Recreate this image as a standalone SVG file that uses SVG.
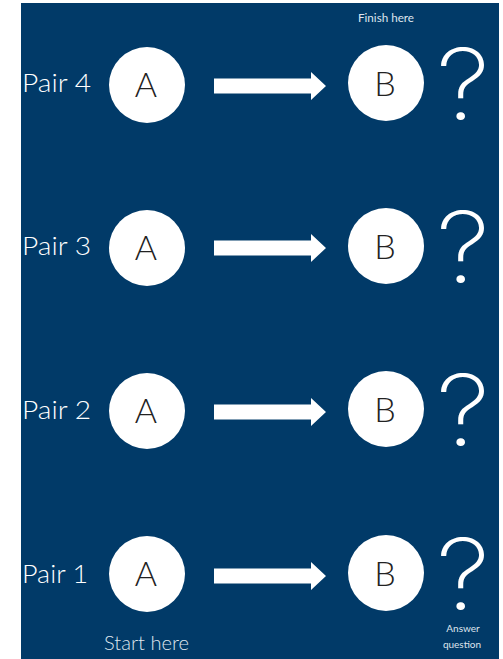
<svg xmlns="http://www.w3.org/2000/svg" width="503" height="659" viewBox="0 0 503 659">
  <style>
    .bg { fill: #013a68; }
    .disc { fill: #ffffff; }
    .pair { font-family: Lato, "Liberation Sans", sans-serif; font-size: 25px; font-weight: 300; fill: #ffffff; }
    .letter { font-family: Lato, "Liberation Sans", sans-serif; font-size: 34px; font-weight: 300; fill: #222222; text-anchor: middle; }
    .ask { font-family: Inter, "Open Sans", "Liberation Sans", sans-serif; font-size: 98px; font-weight: 250; fill: #ffffff; text-anchor: middle; }
    .note { font-family: Lato, "Liberation Sans", sans-serif; fill: #dfe5ee; }
    .arrow { fill: #ffffff; }
  </style>
  <defs>
    <!-- block arrow, centred on y=0 -->
    <path id="blockArrow" class="arrow" d="M214,-7.5 H311 V-14 L326,0 L311,14 V7.5 H214 Z"/>
    <!-- question mark, widened a little, baseline at y=0 -->
    <text id="ask" class="ask" x="0" y="0" transform="scale(1.12,1)">?</text>
  </defs>

  <rect class="bg" x="21" y="3" width="478" height="656"/>

  <g id="captions">
    <text class="note" x="358" y="22" font-size="11" textLength="56" lengthAdjust="spacingAndGlyphs">Finish here</text>
    <text class="note" x="104" y="650" font-size="20" font-weight="300" textLength="85" lengthAdjust="spacingAndGlyphs">Start here</text>
    <text class="note" x="463" y="632" font-size="10" text-anchor="middle">Answer</text>
    <text class="note" x="462" y="648" font-size="10" text-anchor="middle">question</text>
  </g>

  <!-- Pair 4 -->
  <g id="pair4">
    <text class="pair" x="22" y="92" textLength="69" lengthAdjust="spacingAndGlyphs">Pair 4</text>
    <g id="pair4-a"><circle class="disc" cx="147" cy="85" r="38"/><text class="letter" x="146" y="97">A</text></g>
    <g id="pair4-b"><circle class="disc" cx="386" cy="83" r="38"/><text class="letter" x="385" y="96">B</text></g>
    <g id="pair4-q"><use href="#ask" x="463" y="120"/></g>
  </g>

  <!-- Pair 3 -->
  <g id="pair3">
    <text class="pair" x="22" y="255" textLength="69" lengthAdjust="spacingAndGlyphs">Pair 3</text>
    <g id="pair3-a"><circle class="disc" cx="147" cy="248" r="38"/><text class="letter" x="146" y="260">A</text></g>
    <g id="pair3-b"><circle class="disc" cx="386" cy="246" r="38"/><text class="letter" x="385" y="259">B</text></g>
    <g id="pair3-q"><use href="#ask" x="463" y="283"/></g>
  </g>

  <!-- Pair 2 -->
  <g id="pair2">
    <text class="pair" x="22" y="419" textLength="69" lengthAdjust="spacingAndGlyphs">Pair 2</text>
    <g id="pair2-a"><circle class="disc" cx="147" cy="411" r="38"/><text class="letter" x="146" y="423">A</text></g>
    <g id="pair2-b"><circle class="disc" cx="386" cy="409" r="38"/><text class="letter" x="385" y="422">B</text></g>
    <g id="pair2-q"><use href="#ask" x="463" y="446"/></g>
  </g>

  <!-- Pair 1 -->
  <g id="pair1">
    <text class="pair" x="22" y="583" textLength="66" lengthAdjust="spacingAndGlyphs">Pair 1</text>
    <g id="pair1-a"><circle class="disc" cx="147" cy="574" r="38"/><text class="letter" x="146" y="586">A</text></g>
    <g id="pair1-b"><circle class="disc" cx="386" cy="573" r="38"/><text class="letter" x="385" y="586">B</text></g>
    <g id="pair1-q"><use href="#ask" x="463" y="610"/></g>
  </g>

  <g id="connectors">
    <use href="#blockArrow" y="86"/>
    <use href="#blockArrow" y="248"/>
    <use href="#blockArrow" y="412"/>
    <use href="#blockArrow" y="576"/>
  </g>
</svg>
